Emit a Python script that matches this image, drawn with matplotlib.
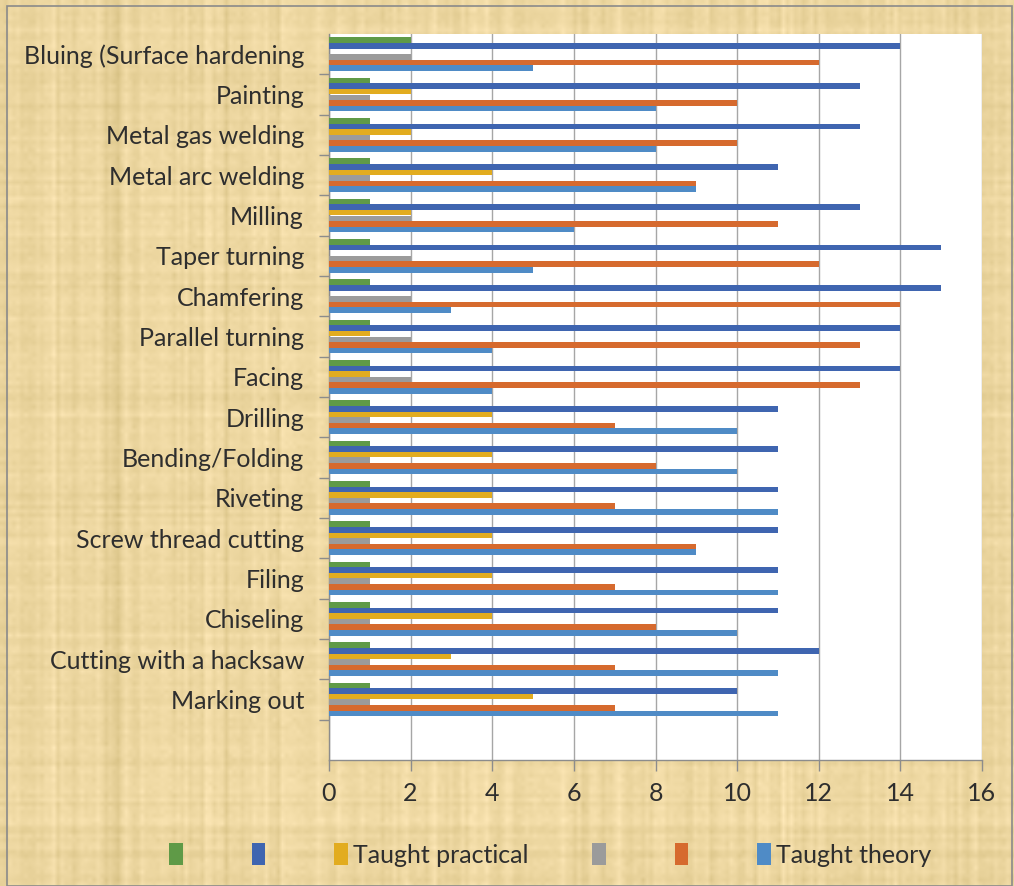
import numpy as np
import matplotlib
matplotlib.use("Agg")
import matplotlib.pyplot as plt
from matplotlib.patches import Patch, Rectangle

# --Data--
tasks = ["Bluing (Surface hardening", "Painting", "Metal gas welding",
         "Metal arc welding", "Milling", "Taper turning", "Chamfering",
         "Parallel turning", "Facing", "Drilling", "Bending/Folding",
         "Riveting", "Screw thread cutting", "Filing", "Chiseling",
         "Cutting with a hacksaw", "Marking out"]

green_vals  = [2, 1, 1, 1, 1, 1, 1, 1, 1, 1, 1, 1, 1, 1, 1, 1, 1]
blue_vals   = [14, 13, 13, 11, 13, 15, 15, 14, 14, 11, 11, 11, 11, 11, 11, 12, 10]
practical   = [0, 2, 2, 4, 2, 0, 0, 1, 1, 4, 4, 4, 4, 4, 4, 3, 5]
gray_vals   = [2, 1, 1, 1, 2, 2, 2, 2, 2, 1, 1, 1, 1, 1, 1, 1, 1]
orange_vals = [12, 10, 10, 9, 11, 12, 14, 13, 13, 7, 8, 7, 9, 7, 8, 7, 7]
theory      = [5, 8, 8, 9, 6, 5, 3, 4, 4, 10, 10, 11, 9, 11, 10, 11, 11]

series = [green_vals, blue_vals, practical, gray_vals, orange_vals, theory]
names = ["", "", "Taught practical", "", "", "Taught theory"]
colors = ["#5F9A47", "#3F65B0", "#E2AC1F", "#9B9B9B", "#D66A2E", "#4F8BC6"]

W, H = 1014, 886
fig = plt.figure(figsize=(W / 100, H / 100), dpi=100)

# --Parchment background--
bg = fig.add_axes([0, 0, 1, 1], zorder=-10)
rng = np.random.default_rng(7)
base = np.array([238, 216, 162]) / 255.0
rows = rng.normal(0, 1, (H // 4, 1)).repeat(W // 4, axis=1)
cols = rng.normal(0, 1, (1, W // 4)).repeat(H // 4, axis=0)
speck = rng.normal(0, 1, (H // 4, W // 4))
tex = 0.012 * rows + 0.018 * cols + 0.008 * speck
img = np.clip(base[None, None, :] + tex[:, :, None] * np.array([1.0, 1.0, 1.3]), 0, 1)
bg.imshow(img, aspect="auto", interpolation="bilinear", extent=[0, 1, 0, 1])
bg.add_patch(Rectangle((0.007, 0.0), 0.991, 0.993, fill=False,
                       edgecolor="#8A8A8A", lw=1.2, transform=bg.transAxes))
bg.set_xlim(0, 1)
bg.set_ylim(0, 1)
bg.axis("off")

# --Bars--
ax = fig.add_axes([329 / W, 1 - 760 / H, (982 - 329) / W, (760 - 34) / H])
ax.set_facecolor("white")

n = len(tasks)
pos = np.arange(n)
h = 0.84 / len(series)
for j, (vals, c) in enumerate(zip(series, colors)):
    ax.barh(pos + (j - 2.5) * h, vals, height=h, color=c, zorder=3)

ax.set_xlim(0, 16)
ax.set_ylim(n + 0.5, -0.5)
ax.set_xticks(range(0, 17, 2))
ax.grid(axis="x", color="#A6A6A6", lw=1.0, zorder=0)

ax.set_yticks(pos)
ax.set_yticklabels(tasks)
ax.set_yticks(np.arange(n) + 0.5, minor=True)
ax.tick_params(axis="y", which="major", length=0, pad=18,
               labelsize=18, labelcolor="#2E2E2E")
ax.tick_params(axis="y", which="minor", length=7, color="#8C8C8C", width=1)
ax.tick_params(axis="x", length=8, color="#8C8C8C", width=1, pad=8,
               labelsize=18, labelcolor="#2E2E2E")
for lab in ax.get_xticklabels() + ax.get_yticklabels():
    lab.set_family("Lato")

for s in ["top", "right"]:
    ax.spines[s].set_visible(False)
for s in ["left", "bottom"]:
    ax.spines[s].set_color("#8C8C8C")
    ax.spines[s].set_linewidth(1.0)

handles = [Patch(facecolor=c, edgecolor="none") for c in colors]
fig.legend(handles, names, loc="center", bbox_to_anchor=(550 / W, 1 - 855 / H),
           ncol=6, frameon=False, handlelength=0.55, handleheight=0.95,
           handletextpad=0.2, columnspacing=2.55,
           prop={"family": "Lato", "size": 18}, labelcolor="#2E2E2E")

fig.savefig("out.png", dpi=100)
